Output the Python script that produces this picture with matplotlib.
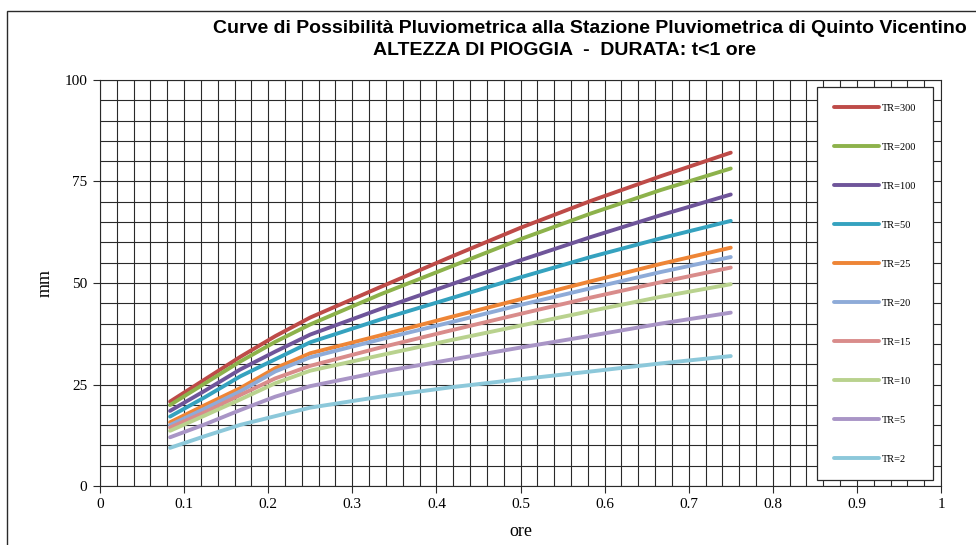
import matplotlib
matplotlib.use("Agg")
import numpy as np
import matplotlib.pyplot as plt
from matplotlib.patches import Rectangle

# durata (ore) e altezze di pioggia (mm)
durata = [0.0833, 0.125, 0.1667, 0.2083, 0.25, 0.3333, 0.4167, 0.5, 0.5833, 0.6667, 0.75]

h_tr300 = [20.8, 26.3, 31.8, 36.9, 41.5, 49.0, 56.4, 63.6, 70.2, 76.3, 82.1]
h_tr200 = [19.95, 25.3, 30.65, 35.5, 39.8, 47.2, 54.0, 60.8, 67.1, 72.9, 78.2]
h_tr100 = [18.5, 23.5, 28.7, 33.1, 37.3, 43.6, 49.6, 55.6, 61.3, 66.7, 71.8]
h_tr50 = [17.1, 21.9, 27.0, 31.2, 35.4, 41.0, 46.2, 51.4, 56.4, 61.0, 65.3]
h_tr25 = [15.7, 19.95, 24.1, 29.0, 32.7, 37.1, 41.6, 46.0, 50.4, 54.7, 58.7]
h_tr20 = [15.0, 19.1, 23.3, 28.2, 31.7, 36.1, 40.3, 44.6, 48.7, 52.7, 56.4]
h_tr15 = [14.4, 18.2, 22.4, 26.5, 29.6, 34.1, 38.3, 42.4, 46.4, 50.2, 53.8]
h_tr10 = [13.6, 17.4, 21.3, 25.3, 28.4, 32.2, 35.9, 39.5, 43.1, 46.6, 49.7]
h_tr5 = [12.0, 15.2, 18.7, 22.0, 24.6, 28.1, 31.1, 34.1, 37.0, 40.0, 42.7]
h_tr2 = [9.4, 12.3, 15.05, 17.2, 19.3, 22.0, 24.3, 26.3, 28.2, 30.2, 32.0]

etichette = ["TR=300", "TR=200", "TR=100", "TR=50", "TR=25",
             "TR=20", "TR=15", "TR=10", "TR=5", "TR=2"]
serie = [h_tr300, h_tr200, h_tr100, h_tr50, h_tr25,
         h_tr20, h_tr15, h_tr10, h_tr5, h_tr2]
colori = ["#BE4B48", "#8DB24B", "#6F559A", "#35A2BF", "#EE8536",
          "#8EABD8", "#D98C8B", "#B9D28E", "#A995C6", "#8CC8DA"]

x_ticks = [0, 0.1, 0.2, 0.3, 0.4, 0.5, 0.6, 0.7, 0.8, 0.9, 1]
x_ticklabels = ["0", "0.1", "0.2", "0.3", "0.4", "0.5", "0.6", "0.7", "0.8", "0.9", "1"]
y_ticks = [0, 25, 50, 75, 100]

fig = plt.figure(figsize=(9.76, 5.45), dpi=100)
ax = fig.add_axes([100 / 976, 1 - 486 / 545, 841 / 976, 406 / 545])

# griglia fitta stile Excel
ax.set_xlim(0, 1)
ax.set_ylim(0, 100)
ax.set_xticks(np.arange(0, 1.0001, 0.02), minor=True)
ax.set_yticks(np.arange(0, 100.001, 5), minor=True)
ax.grid(which="both", color="#2a2a2a", linewidth=0.8)
ax.tick_params(which="minor", length=0)
ax.set_axisbelow(True)

for valori, lab, col in zip(serie, etichette, colori):
    ax.plot(durata, valori, color=col, linewidth=2.8, label=lab,
            solid_capstyle="round", solid_joinstyle="round")

ax.set_xticks(x_ticks)
ax.set_xticklabels(x_ticklabels)
ax.set_yticks(y_ticks)
ax.tick_params(which="major", direction="out", length=5, width=0.8, color="#2a2a2a",
               labelsize=11, pad=4)
for lab in ax.get_xticklabels() + ax.get_yticklabels():
    lab.set_family("Liberation Serif")
for sp in ax.spines.values():
    sp.set_color("#2a2a2a")
    sp.set_linewidth(0.8)

ax.set_xlabel("ore", family="Liberation Serif", fontsize=13, labelpad=8)
ax.set_ylabel("mm", family="Liberation Serif", fontsize=13, labelpad=8)

leg = ax.legend(loc="upper right", bbox_to_anchor=(933 / 976, 1 - 87 / 545),
                bbox_transform=fig.transFigure, borderaxespad=0,
                prop={"family": "Liberation Serif", "size": 7.5},
                labelspacing=2.85, handlelength=4.3, handletextpad=0.3,
                borderpad=1.6, fancybox=False, framealpha=1)
leg.get_frame().set_edgecolor("#2a2a2a")
leg.get_frame().set_linewidth(0.9)

fig.text(213 / 976, 1 - 33 / 545,
         "Curve di Possibilità Pluviometrica alla Stazione Pluviometrica di Quinto Vicentino",
         ha="left", va="baseline", fontsize=14, fontweight="bold", family="Liberation Sans")
fig.text(373 / 976, 1 - 55 / 545, "ALTEZZA DI PIOGGIA  -  DURATA: t<1 ore",
         ha="left", va="baseline", fontsize=14, fontweight="bold", family="Liberation Sans")

# bordo dell'area del grafico
fig.patches.append(Rectangle((7 / 976, -0.1), 1.2, 1 - 11 / 545 + 0.1,
                             transform=fig.transFigure, fill=False,
                             edgecolor="#2a2a2a", linewidth=1.0))

fig.savefig("out.png", dpi=100)
